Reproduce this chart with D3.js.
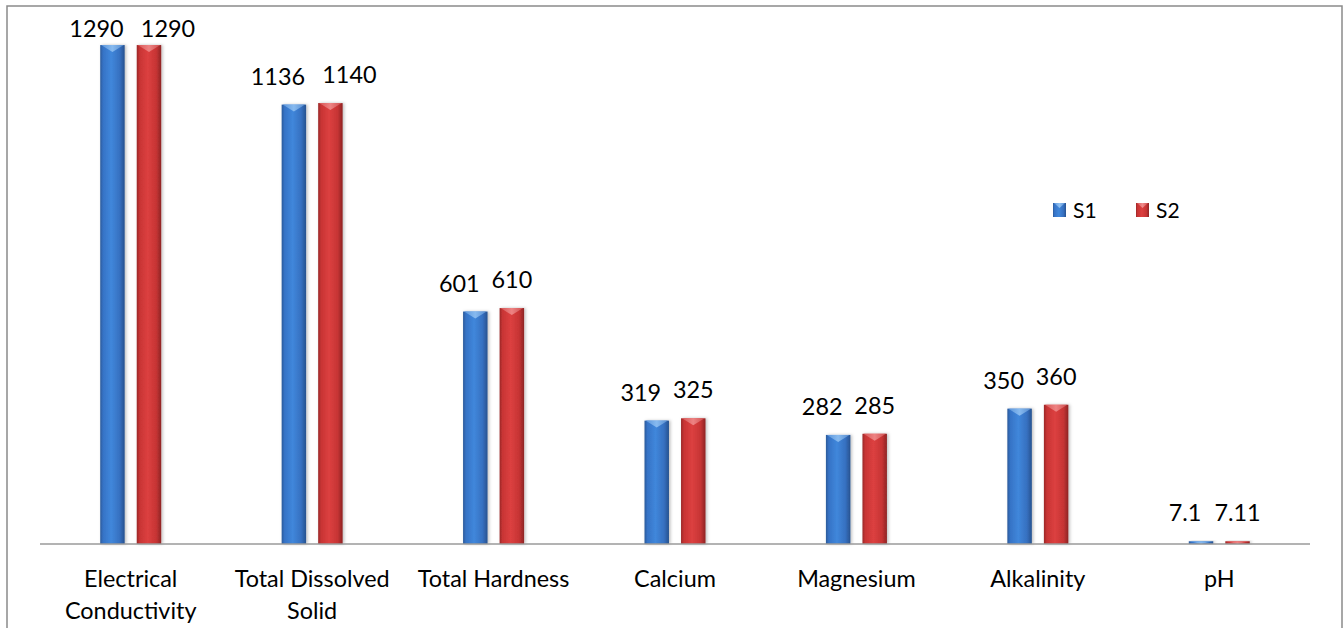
<!DOCTYPE html>
<html>
<head>
<meta charset="utf-8">
<script src="https://cdn.jsdelivr.net/npm/d3@7"></script>
<style>
  html, body { margin: 0; padding: 0; background: #fff; }
  svg { display: block; }
  text { font-family: Lato, "Open Sans", sans-serif; fill: #000; }
</style>
</head>
<body>
<svg id="chart" width="1343" height="628"></svg>
<script>
// ---- data ----
const categories = ["Electrical Conductivity", "Total Dissolved Solid", "Total Hardness", "Calcium", "Magnesium", "Alkalinity", "pH"];
const categoryLines = [["Electrical", "Conductivity"], ["Total Dissolved", "Solid"], ["Total Hardness"], ["Calcium"], ["Magnesium"], ["Alkalinity"], ["pH"]];
const seriesNames = ["S1", "S2"];
const s1Values = [1290, 1136, 601, 319, 282, 350, 7.1];
const s2Values = [1290, 1140, 610, 325, 285, 360, 7.11];
const s1Labels = ["1290", "1136", "601", "319", "282", "350", "7.1"];
const s2Labels = ["1290", "1140", "610", "325", "285", "360", "7.11"];

const seriesValues = [s1Values, s2Values];
const seriesLabels = [s1Labels, s2Labels];

const svg = d3.select("#chart");

// gradients
const defs = svg.append("defs");
const grads = [
  { id: "gBlue", stops: [["0%", "#2b5a9a"], ["12%", "#3673c6"], ["45%", "#4087db"], ["80%", "#3670c0"], ["100%", "#27528f"]],
    cap: [["0%", "#5f98dc"], ["50%", "#8fc0f2"], ["100%", "#5a90d2"]] },
  { id: "gRed", stops: [["0%", "#9a2828"], ["12%", "#c83434"], ["45%", "#dc4040"], ["80%", "#c63434"], ["100%", "#8e2424"]],
    cap: [["0%", "#d85a5a"], ["50%", "#f08a8a"], ["100%", "#cf5252"]] }
];
grads.forEach(g => {
  const lg = defs.append("linearGradient").attr("id", g.id).attr("x1", "0").attr("x2", "1").attr("y1", "0").attr("y2", "0");
  g.stops.forEach(s => lg.append("stop").attr("offset", s[0]).attr("stop-color", s[1]));
  const cg = defs.append("linearGradient").attr("id", g.id + "Cap").attr("x1", "0").attr("x2", "1").attr("y1", "0").attr("y2", "0");
  g.cap.forEach(s => cg.append("stop").attr("offset", s[0]).attr("stop-color", s[1]));
});
const shadow = defs.append("filter").attr("id", "shadow").attr("x", "-30%").attr("y", "-10%").attr("width", "160%").attr("height", "120%");
shadow.append("feDropShadow").attr("dx", 1.5).attr("dy", 0).attr("stdDeviation", 1.5).attr("flood-color", "#000").attr("flood-opacity", 0.25);

// outer border (bottom edge runs off the picture)
svg.append("rect").attr("x", 7).attr("y", 6).attr("width", 1335).attr("height", 700)
  .attr("fill", "none").attr("stroke", "#8a8a8a").attr("stroke-width", 1.5);

// scales
const x0 = d3.scaleBand().domain(categories).range([40, 1310]).padding(0);
const x1 = d3.scaleBand().domain(seriesNames).range([-30.5, 30.5]).paddingInner(0.33).paddingOuter(0);
const y = d3.scaleLinear().domain([0, 1400]).range([544, 2.5]);

const fills = ["gBlue", "gRed"];

// bars
const groups = svg.append("g").selectAll("g").data(categories).join("g")
  .attr("transform", d => `translate(${x0(d) + x0.bandwidth() / 2},0)`);

seriesNames.forEach((s, si) => {
  groups.each(function (cat, ci) {
    const g = d3.select(this);
    const v = seriesValues[si][ci];
    const bx = x1(s), bw = x1.bandwidth();
    const top = y(v), h = y(0) - y(v);
    g.append("rect").attr("x", bx).attr("y", top).attr("width", bw).attr("height", h)
      .attr("fill", `url(#${fills[si]})`).attr("filter", "url(#shadow)");
    const capH = Math.min(7, h);
    g.append("path")
      .attr("d", `M${bx + 1},${top} L${bx + bw - 1},${top} L${bx + bw / 2},${top + capH} Z`)
      .attr("fill", `url(#${fills[si]}Cap)`).attr("opacity", 0.9);
  });
});

// value labels
const valFont = 23.4;
seriesNames.forEach((s, si) => {
  groups.each(function (cat, ci) {
    const g = d3.select(this);
    const v = seriesValues[si][ci];
    const cx = x1(s) + x1.bandwidth() / 2;
    let dx = si === 0 ? -16 : 0;
    if (si === 1 && v >= 1000) dx = 19;
    const baseline = Math.max(y(v) - 20, 37);
    g.append("text").attr("x", cx + dx).attr("y", baseline)
      .attr("text-anchor", "middle").attr("font-size", valFont)
      .text(seriesLabels[si][ci]);
  });
});

// x axis line
svg.append("line").attr("x1", 40).attr("x2", 1310).attr("y1", y(0)).attr("y2", y(0))
  .attr("stroke", "#9a9a9a").attr("stroke-width", 1.5);

// category labels
categories.forEach((c, ci) => {
  const t = svg.append("text").attr("text-anchor", "middle").attr("font-size", valFont)
    .attr("x", x0(c) + x0.bandwidth() / 2).attr("y", 587);
  categoryLines[ci].forEach((ln, li) => {
    t.append("tspan").attr("x", x0(c) + x0.bandwidth() / 2).attr("dy", li === 0 ? 0 : 32).text(ln);
  });
});

// legend
const legend = svg.append("g").attr("transform", "translate(1053,203)");
const legendStep = 83;
seriesNames.forEach((s, si) => {
  const lg = legend.append("g").attr("transform", `translate(${si * legendStep},0)`);
  lg.append("rect").attr("x", 0).attr("y", 0).attr("width", 13).attr("height", 14).attr("fill", `url(#${fills[si]})`);
  lg.append("path").attr("d", "M1,0 L12,0 L6.5,5 Z").attr("fill", `url(#${fills[si]}Cap)`);
  lg.append("text").attr("x", 20).attr("y", 14.5).attr("font-size", 21).text(s);
});
</script>
</body>
</html>
